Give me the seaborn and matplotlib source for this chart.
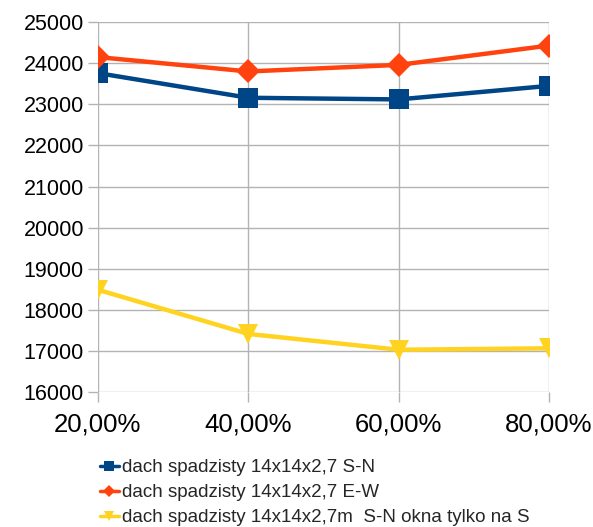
import matplotlib
matplotlib.use("Agg")
import matplotlib.pyplot as plt
import seaborn as sns
import pandas as pd

categories = ["20,00%", "40,00%", "60,00%", "80,00%"]
x_vals = [20, 40, 60, 80]
series_names = [
    "dach spadzisty 14x14x2,7 S-N",
    "dach spadzisty 14x14x2,7 E-W",
    "dach spadzisty 14x14x2,7m  S-N okna tylko na S",
]
sn_values = [23760, 23160, 23120, 23450]
ew_values = [24150, 23800, 23960, 24430]
s_values = [18490, 17415, 17030, 17065]
y_ticks = [16000, 17000, 18000, 19000, 20000, 21000, 22000, 23000, 24000, 25000]

colors = ["#004586", "#ff420e", "#ffd320"]
markers = ["s", "D", "v"]
msizes = [14, 12, 15]

sns.set_theme(style="white")
plt.rcParams['font.family'] = ['Liberation Sans', 'DejaVu Sans']

fig = plt.figure(figsize=(5.93, 5.27), dpi=100)
ax = fig.add_axes([0.165, 0.256, 0.761, 0.702])

for name, vals, c, m, ms in zip(series_names, [sn_values, ew_values, s_values], colors, markers, msizes):
    df = pd.DataFrame({"x": x_vals, "y": vals})
    sns.lineplot(data=df, x="x", y="y", ax=ax, color=c, linewidth=3.2,
                 marker=m, markersize=ms, markeredgewidth=0, label=name, zorder=3)

ax.set_xlim(20, 80)
ax.set_ylim(16000, 25000)
ax.set_xticks(x_vals)
ax.set_xticklabels(categories)
ax.set_yticks(y_ticks)
ax.set_yticklabels([str(t) for t in y_ticks])
ax.set_xlabel("")
ax.set_ylabel("")
ax.grid(True, color="#b3b3b3", linewidth=1.0)
for s in ax.spines.values():
    s.set_visible(False)
ax.tick_params(axis="both", which="both", direction="out", length=7, width=1.0,
               color="#b3b3b3", labelcolor="#000000")
ax.tick_params(axis="y", left=True, labelsize=15.5, pad=3)
ax.tick_params(axis="x", bottom=True, labelsize=18.5, pad=8)

handles, labels = ax.get_legend_handles_labels()
leg = ax.legend(handles, labels, loc="upper left", bbox_to_anchor=(100/593, 1 - 459/527),
                bbox_transform=fig.transFigure, frameon=False, fontsize=13.5,
                handlelength=1.0, handletextpad=0.15, labelspacing=0.42,
                borderaxespad=0, borderpad=0, markerscale=0.5)
for h in leg.legend_handles:
    h.set_linewidth(2.5)

fig.savefig("out.png", dpi=100)
